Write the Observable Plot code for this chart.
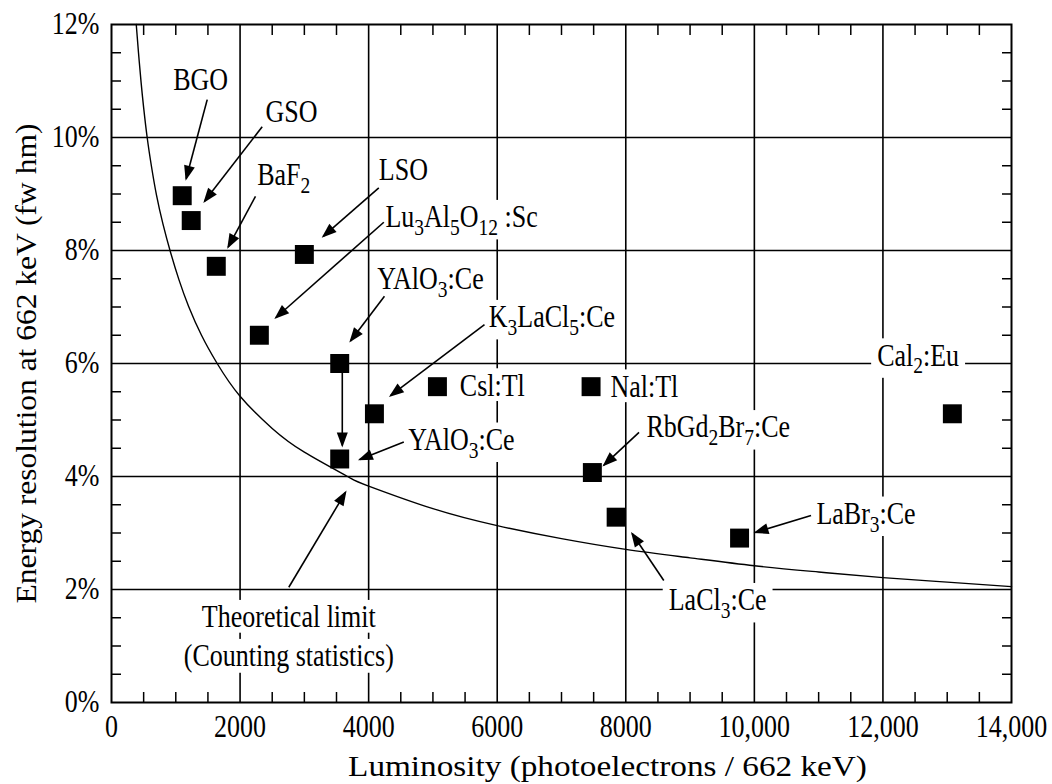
<!DOCTYPE html>
<html>
<head>
<meta charset="utf-8">
<script src="https://cdn.jsdelivr.net/npm/d3@7"></script>
<script src="https://cdn.jsdelivr.net/npm/@observablehq/plot@0.6"></script>
<style>
  html, body { margin: 0; padding: 0; background: #ffffff; }
  #chart { width: 1052px; height: 784px; }
</style>
</head>
<body>
<div id="chart"></div>
<script>
// ---------- data ----------
const crystals   = ["BGO", "GSO", "BaF2", "LSO", "Lu3Al5O12:Sc", "YAlO3:Ce (early)", "YAlO3:Ce", "K3LaCl5:Ce",
                    "CsI:Tl", "NaI:Tl", "RbGd2Br7:Ce", "LaCl3:Ce", "LaBr3:Ce", "CaI2:Eu"];
const luminosity = [1100, 1240, 1630, 3000, 2300, 3550, 3550, 4090, 5070, 7460, 7480, 7850, 9770, 13080];
const resolution = [8.97, 8.53, 7.72, 7.93, 6.50, 6.00, 4.31, 5.11, 5.59, 5.59, 4.07, 3.28, 2.91, 5.11];

// theoretical limit (counting statistics) curve
const curveLum = [385, 420, 460, 500, 555, 620, 700, 800, 918, 1050, 1200, 1400, 1644, 2000, 2500, 3000,
                  3672, 4000, 5000, 6000, 7000, 8000, 9000, 10000, 11000, 12000, 13000, 14000];
const curveRes = [12.0, 11.5, 10.98, 10.53, 10.0, 9.5, 8.98, 8.47, 7.97, 7.48, 7.01, 6.5, 6.0, 5.42, 4.85, 4.43,
                  4.0, 3.83, 3.43, 3.13, 2.9, 2.71, 2.56, 2.42, 2.31, 2.21, 2.13, 2.05];

// annotation labels ("_n" marks a subscript)
const labelText = ["BGO", "GSO", "BaF_2", "LSO", "Lu_3Al_5O_12 :Sc", "YAlO_3:Ce", "K_3LaCl_5:Ce", "Csl:Tl",
                   "YAlO_3:Ce", "Nal:Tl", "RbGd_2Br_7:Ce", "LaCl_3:Ce", "LaBr_3:Ce", "Cal_2:Eu"];
const labelX    = [960, 2395, 2266, 4158, 4262, 4133, 5869, 5418, 4615, 7761, 8321, 8668, 10965, 11910];
const labelY    = [11.01, 10.45, 9.33, 9.42, 8.59, 7.50, 6.82, 5.61, 4.65, 5.59, 4.87, 1.81, 3.34, 6.14];

const limitText = ["Theoretical limit", "(Counting statistics)"];
const limitX    = [2758, 2758];
const limitY    = [1.51, 0.82];

// arrows: start (label side) -> tip (marker side)
const arrowX1 = [1489, 2344, 2240, 4158, 4236, 4246, 5802, 3590, 4547, 8206, 8591, 10882, 2758];
const arrowY1 = [10.67, 10.19, 8.96, 9.11, 8.50, 7.19, 6.69, 5.90, 4.61, 4.78, 2.16, 3.31, 2.04];
const arrowX2 = [1161, 1447, 1815, 3293, 2556, 3718, 4340, 3590, 3862, 7660, 8099, 10017, 3640];
const arrowY2 = [9.27, 8.87, 8.06, 8.25, 6.81, 6.40, 5.43, 4.55, 4.30, 4.20, 2.99, 3.01, 3.72];

// axes
const xMajorTicks  = [0, 2000, 4000, 6000, 8000, 10000, 12000, 14000];
const xTickLabels  = ["0", "2000", "4000", "6000", "8000", "10,000", "12,000", "14,000"];
const xGridTicks   = [2000, 4000, 6000, 8000, 10000, 12000];
const xMinorTicks  = [500, 1000, 1500, 2500, 3000, 3500, 4500, 5000, 5500, 6500, 7000, 7500,
                      8500, 9000, 9500, 10500, 11000, 11500, 12500, 13000, 13500];
const yMajorTicks  = [0, 2, 4, 6, 8, 10, 12];
const yTickLabels  = ["0%", "2%", "4%", "6%", "8%", "10%", "12%"];
const yGridTicks   = [2, 4, 6, 8, 10];
const yMinorTicks  = [0.5, 1, 1.5, 2.5, 3, 3.5, 4.5, 5, 5.5, 6.5, 7, 7.5, 8.5, 9, 9.5, 10.5, 11, 11.5];

const xTitle = "Luminosity (photoelectrons / 662 keV)";
const yTitle = "Energy resolution at 662 keV (fw hm)";

// ---------- chart ----------
const FONT = "'Liberation Serif', 'Times New Roman', serif";
const idx = crystals.map((_, i) => i);
const curveIdx = curveLum.map((_, i) => i);
const labelIdx = labelText.map((_, i) => i);
const limitIdx = limitText.map((_, i) => i);
const arrowIdx = arrowX1.map((_, i) => i);

const minorTick = { tickSize: -10, fill: "none", stroke: "black", strokeWidth: 1.5, label: null };

const plot = Plot.plot({
  width: 1052,
  height: 784,
  marginLeft: 111,
  marginRight: 41,
  marginTop: 24,
  marginBottom: 82,
  x: { domain: [0, 14000], axis: null },
  y: { domain: [0, 12], axis: null },
  style: { fontFamily: FONT, background: "white", color: "black", overflow: "visible" },
  marks: [
    // grid
    Plot.ruleX(xGridTicks, { stroke: "black", strokeWidth: 1.6 }),
    Plot.ruleY(yGridTicks, { stroke: "black", strokeWidth: 1.6 }),
    // inward minor ticks on all four sides
    Plot.axisX(xMinorTicks, { anchor: "bottom", ...minorTick }),
    Plot.axisX(xMinorTicks, { anchor: "top", ...minorTick }),
    Plot.axisY(yMinorTicks, { anchor: "left", ...minorTick }),
    Plot.axisY(yMinorTicks, { anchor: "right", ...minorTick }),
    // tick labels
    Plot.axisX(xMajorTicks, { anchor: "bottom", tickSize: 0, tickPadding: 12, fontSize: 26, label: null, fill: "black",
      tickFormat: d => xTickLabels[xMajorTicks.indexOf(d)] }),
    Plot.axisY(yMajorTicks, { anchor: "left", tickSize: 0, tickPadding: 12, fontSize: 26, label: null, fill: "black",
      tickFormat: d => yTickLabels[yMajorTicks.indexOf(d)] }),
    // axis titles
    Plot.text([xTitle], { frameAnchor: "bottom", textAnchor: "middle", lineAnchor: "middle", dx: 46, dy: 64,
      fontSize: 26, fill: "black" }),
    Plot.text([yTitle], { frameAnchor: "left", textAnchor: "middle", lineAnchor: "middle", rotate: -90, dx: -85,
      fontSize: 26, fill: "black" }),
    // labels
    Plot.text(labelIdx, { x: i => labelX[i], y: i => labelY[i], text: i => labelText[i], textAnchor: "start",
      fontSize: 26, fill: "black" }),
    Plot.text(limitIdx, { x: i => limitX[i], y: i => limitY[i], text: i => limitText[i], textAnchor: "middle",
      fontSize: 26, fill: "black" }),
    // theoretical curve
    Plot.line(curveIdx, { x: i => curveLum[i], y: i => curveRes[i], curve: "natural", stroke: "black", strokeWidth: 1.4 }),
    // arrows
    Plot.link(arrowIdx, {
      x1: i => arrowX1[i], y1: i => arrowY1[i], x2: i => arrowX2[i], y2: i => arrowY2[i],
      stroke: "black", strokeWidth: 1.6, markerEnd: "arrow"
    }),
    // crystals
    Plot.dot(idx, { x: i => luminosity[i], y: i => resolution[i], symbol: "square", r: 10.7, fill: "black", stroke: "none" }),
    Plot.frame({ stroke: "black", strokeWidth: 2 })
  ]
});

document.getElementById("chart").appendChild(plot);

const svgNS = "http://www.w3.org/2000/svg";
const svg = plot.tagName.toLowerCase() === "svg" ? plot : plot.querySelector("svg");

// filled triangular arrowheads
svg.querySelectorAll("marker").forEach(m => {
  m.setAttribute("viewBox", "-15 -7 18 14");
  m.setAttribute("markerUnits", "userSpaceOnUse");
  m.setAttribute("markerWidth", "18");
  m.setAttribute("markerHeight", "14");
  m.setAttribute("refX", "0");
  m.setAttribute("refY", "0");
  m.setAttribute("orient", "auto");
  m.setAttribute("fill", "black");
  m.setAttribute("stroke", "none");
  while (m.firstChild) m.removeChild(m.firstChild);
  const p = document.createElementNS(svgNS, "path");
  p.setAttribute("d", "M-13,-5.5L2,0L-13,5.5Z");
  m.appendChild(p);
});

// subscripts
const SUB = 6.5;
svg.querySelectorAll("text").forEach(t => {
  if (t.childElementCount === 0 && t.textContent.includes("_")) {
    const parts = t.textContent.split(/_(\d+)/);
    t.textContent = "";
    let shifted = false;
    parts.forEach((p, i) => {
      if (!p) return;
      const ts = document.createElementNS(svgNS, "tspan");
      if (i % 2 === 1) {
        ts.setAttribute("font-size", "0.75em");
        if (!shifted) { ts.setAttribute("dy", String(SUB)); shifted = true; }
      } else if (shifted) {
        ts.setAttribute("dy", String(-SUB));
        shifted = false;
      }
      ts.textContent = p;
      t.appendChild(ts);
    });
  }
});

// the original's serif type is tall and narrow: stretch glyphs about their anchor point
function stretchText(t, sx, sy) {
  const tr = t.getAttribute("transform");
  if (tr) {
    t.setAttribute("transform", `${tr} scale(${sx},${sy})`);
  } else {
    const x = parseFloat(t.getAttribute("x")) || 0;
    const y = parseFloat(t.getAttribute("y")) || 0;
    t.setAttribute("transform", `translate(${x},${y}) scale(${sx},${sy}) translate(${-x},${-y})`);
  }
}
const STRETCH = 1.2;
const labelSet = new Set([...labelText.map(s => s.replace(/_/g, "")), ...limitText]);
const labelNodes = [];
svg.querySelectorAll("text").forEach(t => {
  const txt = t.textContent;
  if (!txt) return;
  const w = t.getComputedTextLength();
  if (txt === xTitle) { stretchText(t, 519 / w, 1.16); return; }
  if (txt === yTitle) { stretchText(t, 480 / w, 1.15); return; }
  stretchText(t, 1, STRETCH);
  if (labelSet.has(txt)) labelNodes.push(t);
});

// white boxes behind the annotation labels: they break the grid lines as in the original
if (labelNodes.length) {
  const sb = svg.getBoundingClientRect();
  const haloG = document.createElementNS(svgNS, "g");
  haloG.setAttribute("fill", "white");
  haloG.setAttribute("stroke", "none");
  labelNodes.forEach(t => {
    const r = t.getBoundingClientRect();
    const rect = document.createElementNS(svgNS, "rect");
    rect.setAttribute("x", r.left - sb.left - 6);
    rect.setAttribute("y", r.top - sb.top + 1);
    rect.setAttribute("width", r.width + 12);
    rect.setAttribute("height", Math.max(0, r.height - 2));
    haloG.appendChild(rect);
  });
  let first = labelNodes[0];
  while (first.parentNode !== svg) first = first.parentNode;
  svg.insertBefore(haloG, first);
}
</script>
</body>
</html>
